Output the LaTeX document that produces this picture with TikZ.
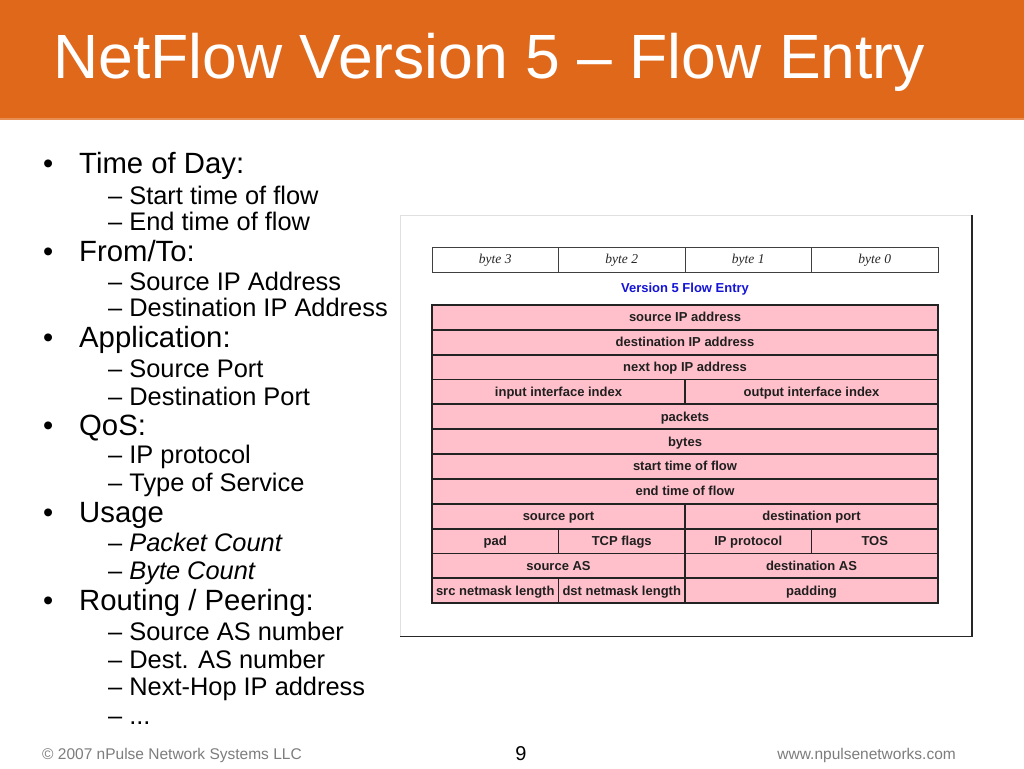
\documentclass[tikz,border=0pt]{standalone}
\usepackage{fontspec}
\setmainfont{Liberation Sans}
\newfontfamily\byteserif{Liberation Serif}
\definecolor{hdr}{RGB}{224,104,26}
\definecolor{pinkcell}{RGB}{255,192,203}
\definecolor{cellline}{RGB}{35,35,35}
\definecolor{v5blue}{RGB}{20,20,215}
\definecolor{footgray}{RGB}{125,125,125}
\begin{document}
\begin{tikzpicture}[x=1pt,y=-1pt,
  bulletdot/.style={anchor=base west, inner sep=0, font=\fontsize{29}{30}\selectfont},
  bullettxt/.style={anchor=base west, inner sep=0, font=\fontsize{29.3}{30}\selectfont},
  subtxt/.style={anchor=base west, inner sep=0, font=\fontsize{25.4}{26}\selectfont},
  cell/.style={draw=cellline, line width=1.8pt, fill=pinkcell, inner sep=0, outer sep=0,
    minimum height=24.85pt, text height=9.4pt, text depth=0.6pt,
    font=\fontsize{13}{14}\selectfont\bfseries, text=black!88},
  bytecell/.style={draw=black!75, line width=0.8pt, fill=white, inner sep=0, outer sep=0,
    minimum height=25pt, minimum width=126.5pt, text height=9.5pt, text depth=0.8pt,
    font=\byteserif\itshape\fontsize{13.5}{14}\selectfont, text=black!85},
  foot/.style={anchor=base west, inner sep=0, font=\fontsize{15.5}{16}\selectfont, text=footgray}]
\useasboundingbox (0,0) rectangle (1024,768);
\fill[white] (0,0) rectangle (1024,768);
% header
\fill[hdr] (0,0) rectangle (1024,118);
\fill[hdr!75!white] (0,118) rectangle (1024,120);
\node[anchor=base west, inner sep=0, text=white, font=\fontsize{62.5}{63}\selectfont] (title) at (53,78) {NetFlow Version 5 – Flow Entry};

% bullets
\node[bulletdot] (b1) at (43,173.6) {•};
\node[bullettxt] (t1) at (79,173.6) {Time of Day:};
\node[subtxt] (s11) at (108,204) {– Start time of flow};
\node[subtxt] (s12) at (108,230) {– End time of flow};
\node[bulletdot] (b2) at (43,261) {•};
\node[bullettxt] (t2) at (79,261) {From/To:};
\node[subtxt] (s21) at (108,290) {– Source IP Address};
\node[subtxt] (s22) at (108,316.6) {– Destination IP Address};
\node[bulletdot] (b3) at (43,347) {•};
\node[bullettxt] (t3) at (79,347) {Application:};
\node[subtxt] (s31) at (108,377) {– Source Port};
\node[subtxt] (s32) at (108,405.7) {– Destination Port};
\node[bulletdot] (b4) at (43,435) {•};
\node[bullettxt] (t4) at (79,435) {QoS:};
\node[subtxt] (s41) at (108,463.5) {– IP protocol};
\node[subtxt] (s42) at (108,491.5) {– Type of Service};
\node[bulletdot] (b5) at (43,522.4) {•};
\node[bullettxt] (t5) at (79,522.4) {Usage};
\node[subtxt] (s51) at (108,551) {– \textit{Packet Count}};
\node[subtxt] (s52) at (108,579) {– \textit{Byte Count}};
\node[bulletdot] (b6) at (43,610) {•};
\node[bullettxt] (t6) at (79,610) {Routing / Peering:};
\node[subtxt] (s61) at (108,640) {– Source AS number};
\node[subtxt] (s62) at (108,668) {– Dest. AS number};
\node[subtxt] (s63) at (108,695.6) {– Next-Hop IP address};
\node[subtxt] (s64) at (108,724) {– ...};

% figure frame
\draw[black!12, line width=1pt] (400,636.5) -- (400,215) -- (972,215);
\draw[black!85, line width=1.2pt] (972,215) -- (972,636.5) -- (400,636.5);

% byte header
\node[bytecell] (by3) at (495.25,259.5) {byte 3};
\node[bytecell] (by2) at (621.75,259.5) {byte 2};
\node[bytecell] (by1) at (748.25,259.5) {byte 1};
\node[bytecell] (by0) at (874.75,259.5) {byte 0};
\node[inner sep=0, text=v5blue, text height=9.4pt, text depth=0.6pt, font=\fontsize{13}{14}\selectfont\bfseries] (v5) at (685,288) {Version 5 Flow Entry};

% flow entry table
\node[cell, minimum width=506pt] (r1) at (685,317.4) {source IP address};
\node[cell, minimum width=506pt] (r2) at (685,342.3) {destination IP address};
\node[cell, minimum width=506pt] (r3) at (685,367.1) {next hop IP address};
\node[cell, minimum width=253pt] (r4a) at (558.5,392.0) {input interface index};
\node[cell, minimum width=253pt] (r4b) at (811.5,392.0) {output interface index};
\node[cell, minimum width=506pt] (r5) at (685,416.8) {packets};
\node[cell, minimum width=506pt] (r6) at (685,441.7) {bytes};
\node[cell, minimum width=506pt] (r7) at (685,466.5) {start time of flow};
\node[cell, minimum width=506pt] (r8) at (685,491.4) {end time of flow};
\node[cell, minimum width=253pt] (r9a) at (558.5,516.2) {source port};
\node[cell, minimum width=253pt] (r9b) at (811.5,516.2) {destination port};
\node[cell, minimum width=126.5pt] (r10a) at (495.25,541.1) {pad};
\node[cell, minimum width=126.5pt] (r10b) at (621.75,541.1) {TCP flags};
\node[cell, minimum width=126.5pt] (r10c) at (748.25,541.1) {IP protocol};
\node[cell, minimum width=126.5pt] (r10d) at (874.75,541.1) {TOS};
\node[cell, minimum width=253pt] (r11a) at (558.5,565.9) {source AS};
\node[cell, minimum width=253pt] (r11b) at (811.5,565.9) {destination AS};
\node[cell, minimum width=126.5pt] (r12a) at (495.25,590.8) {src netmask length};
\node[cell, minimum width=126.5pt] (r12b) at (621.75,590.8) {dst netmask length};
\node[cell, minimum width=253pt] (r12c) at (811.5,590.8) {padding};

% footer
\node[foot] (copy) at (42,759) {© 2007 nPulse Network Systems LLC};
\node[anchor=base, inner sep=0, font=\fontsize{20}{21}\selectfont] (pg) at (521,760) {9};
\node[foot, anchor=base east] (url) at (956,759) {www.npulsenetworks.com};
\end{tikzpicture}
\end{document}
